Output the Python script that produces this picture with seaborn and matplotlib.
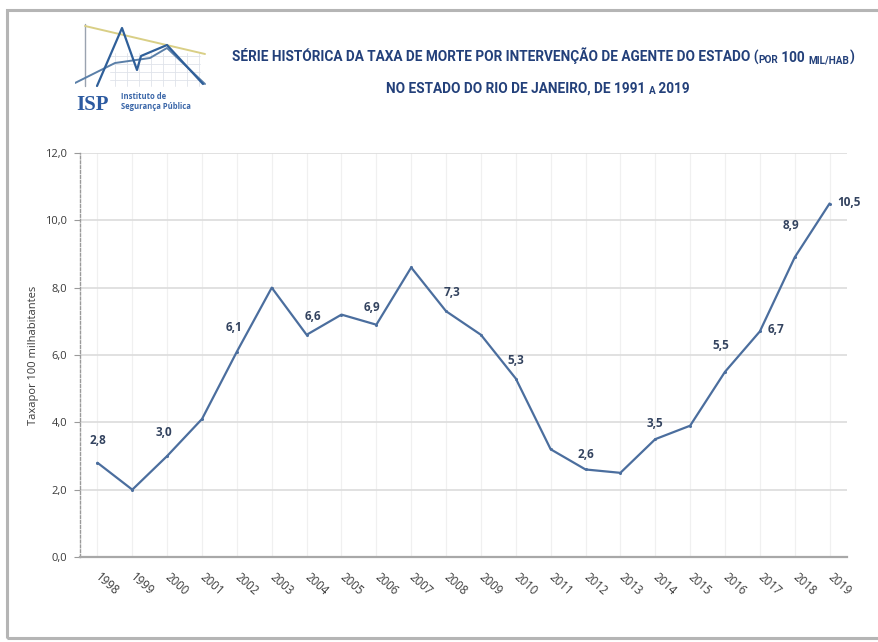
import numpy as np
import pandas as pd
import matplotlib
matplotlib.use("Agg")
import matplotlib.pyplot as plt
import seaborn as sns
from matplotlib.patches import Rectangle

# dados: taxa de morte por intervencao de agente do estado (por 100 mil hab)
anos = list(range(1998, 2020))
taxa = [2.8, 2.0, 3.0, 4.1, 6.1, 8.0, 6.6, 7.2, 6.9, 8.6, 7.3,
        6.6, 5.3, 3.2, 2.6, 2.5, 3.5, 3.9, 5.5, 6.7, 8.9, 10.5]
anos_rotulo = [1998, 2000, 2002, 2004, 2006, 2008, 2010, 2012, 2014, 2016, 2017, 2018, 2019]
y_ticks = [0, 2, 4, 6, 8, 10, 12]

df = pd.DataFrame({"Ano": anos, "Taxa": taxa})

# deslocamento dos rotulos (pixels)
desloc = {1998: (0, 22), 2000: (-3, 24), 2002: (-3, 24), 2004: (6, 18), 2006: (-4, 17),
          2008: (6, 19), 2010: (0, 18), 2012: (0, 15), 2014: (0, 16), 2016: (-4, 26),
          2017: (16, 2), 2018: (-4, 32), 2019: (19, 1)}

sns.set_theme(style="white")
plt.rcParams['font.family'] = ['Open Sans', 'DejaVu Sans']

fig = plt.figure(figsize=(8.79, 6.42), dpi=100)
W, H = 879, 642

# moldura
fig.patches.append(Rectangle((7 / W, 4 / H), 1.2, 1 - 14 / H, transform=fig.transFigure,
                             fill=False, edgecolor="#b5b5b5", linewidth=2.2))

ax = fig.add_axes([80 / W, 1 - 557 / H, 767 / W, 404 / H])
sns.lineplot(data=df, x="Ano", y="Taxa", ax=ax, color="#4b6e9e", linewidth=1.6,
             marker="o", markersize=2.2, markeredgewidth=0, zorder=3)

ax.set_xlim(1997.5, 2019.5)
ax.set_ylim(0, 12)
ax.set_yticks(y_ticks)
ax.set_yticklabels([f"{v:.1f}".replace(".", ",") for v in y_ticks], fontsize=8, color="#3a3a3a")
ax.set_xticks(anos)
ax.set_xticklabels([str(a) for a in anos], rotation=-42, ha="left", va="center",
                   rotation_mode="anchor", fontsize=8.3, color="#3a3a3a")
ax.tick_params(axis="x", length=0, pad=13)
ax.tick_params(axis="y", length=4, width=0.8, color="#9a9a9a", left=True, pad=5)

ax.grid(axis="y", color="#dcdcdc", linewidth=1.2)
ax.grid(axis="x", color="#f0f0f0", linewidth=0.9)
ax.set_axisbelow(True)
for s in ["top", "right"]:
    ax.spines[s].set_visible(False)
ax.spines["left"].set_linestyle((0, (2, 1.5)))
ax.spines["left"].set_color("#9a9a9a")
ax.spines["left"].set_linewidth(1.0)
ax.spines["bottom"].set_color("#a8a8a8")
ax.spines["bottom"].set_linewidth(1.6)

ax.set_xlabel("")
ax.set_ylabel("Taxapor 100 milhabitantes", fontsize=8, color="#3a3a3a")
ax.yaxis.set_label_coords(-41 / 767, 0.5)

for a in anos_rotulo:
    v = taxa[anos.index(a)]
    ax.annotate(f"{v:.1f}".replace(".", ","), (a, v), xytext=desloc[a],
                textcoords="offset pixels", ha="center", va="center",
                fontsize=8.5, fontweight="bold", color="#33435f")

# titulo
azul = "#23407a"
fn = ['Roboto', 'DejaVu Sans']
big, small = 9.8, 7.2
t1 = fig.text(232 / W, 1 - 62 / H, "SÉRIE HISTÓRICA DA TAXA DE MORTE POR INTERVENÇÃO DE AGENTE DO ESTADO (",
              fontsize=big, fontweight="bold", color=azul, family=fn, va="baseline")
prev = t1
for txt, fs in [("POR", small), (" 100 ", big), ("MIL/HAB", small), (")", big)]:
    prev = ax.annotate(txt, xy=(1, 0), xycoords=prev, va="bottom", ha="left", fontsize=fs,
                       fontweight="bold", color=azul, family=fn, annotation_clip=False)
t2 = fig.text(386 / W, 1 - 93 / H, "NO ESTADO DO RIO DE JANEIRO, DE 1991 ",
              fontsize=big, fontweight="bold", color=azul, family=fn, va="baseline")
prev = t2
for txt, fs in [("A", small), (" 2019", big)]:
    prev = ax.annotate(txt, xy=(1, 0), xycoords=prev, va="bottom", ha="left", fontsize=fs,
                       fontweight="bold", color=azul, family=fn, annotation_clip=False)

# logotipo ISP
lg = fig.add_axes([75 / W, 1 - 90 / H, 135 / W, 72 / H])
lg.set_xlim(0, 135)
lg.set_ylim(72, 0)
lg.axis("off")
for gx in range(40, 125, 12):
    lg.plot([gx, gx], [35, 68], color="#dfe3ea", lw=0.6)
for gy in range(38, 70, 8):
    lg.plot([35, 125], [gy, gy], color="#dfe3ea", lw=0.6)
lg.plot([10, 10], [6, 68], color="#9aa3b0", lw=1.0)
lg.plot([10, 130], [8, 36], color="#d9cf86", lw=1.4)
lg.plot([0, 40, 75, 92, 130], [65, 45, 40, 30, 66], color="#5a7fa8", lw=1.4)
lg.plot([22, 47, 62, 66, 92, 128], [68, 10, 52, 38, 27, 66], color="#2f5f99", lw=1.6)
fig.text(76 / W, 1 - 110 / H, "ISP", fontsize=15, fontweight="bold", color="#2c5aa0",
         family=['Liberation Serif', 'DejaVu Serif'], va="baseline")
fig.text(121 / W, 1 - 99 / H, "Instituto de", fontsize=5.5, fontweight="bold", color="#3a66a8",
         va="baseline")
fig.text(121 / W, 1 - 109 / H, "Segurança Pública", fontsize=5.5, fontweight="bold",
         color="#3a66a8", va="baseline")

fig.savefig("out.png", dpi=100)
